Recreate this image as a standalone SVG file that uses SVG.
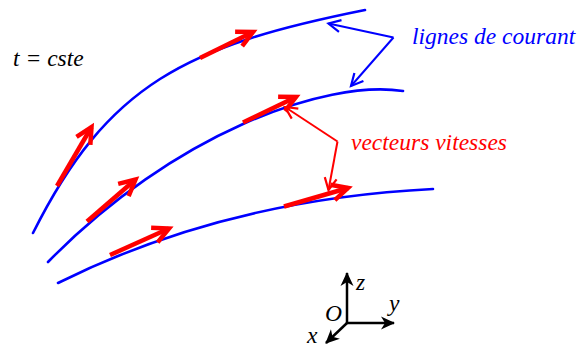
<svg xmlns="http://www.w3.org/2000/svg" width="579" height="347" viewBox="0 0 579 347">
<style>
.curve{fill:none;stroke:#0000ff;stroke-width:2.6;stroke-linecap:round}
.vec{fill:none;stroke:#ff0000;stroke-width:4.5;stroke-linecap:butt}
.ptrb{fill:none;stroke:#0000ff;stroke-width:2}
.ptrr{fill:none;stroke:#ff0000;stroke-width:2}
.axis{fill:none;stroke:#000;stroke-width:2.5}
.t{font-family:'Liberation Serif','Times New Roman',serif;font-style:italic;font-size:23.5px}
</style>
<defs>
<marker id="mv" markerUnits="userSpaceOnUse" orient="auto" markerWidth="40" markerHeight="40" viewBox="-20 -20 40 40" refX="0" refY="0" overflow="visible">
<path d="M-16,-8 L0,0 L-16,8" fill="none" stroke="#ff0000" stroke-width="4.5" stroke-linejoin="miter"/>
</marker>
<marker id="mb" markerUnits="userSpaceOnUse" orient="auto" markerWidth="30" markerHeight="30" viewBox="-15 -15 30 30" refX="0" refY="0" overflow="visible">
<path d="M-12,-6 L0,0 L-12,6" fill="none" stroke="#0000ff" stroke-width="2.2"/>
</marker>
<marker id="mr" markerUnits="userSpaceOnUse" orient="auto" markerWidth="30" markerHeight="30" viewBox="-15 -15 30 30" refX="0" refY="0" overflow="visible">
<path d="M-12,-6 L0,0 L-12,6" fill="none" stroke="#ff0000" stroke-width="2.2"/>
</marker>
<marker id="mk" markerUnits="userSpaceOnUse" orient="auto" markerWidth="30" markerHeight="30" viewBox="-15 -15 30 30" refX="0" refY="0" overflow="visible">
<path d="M1,0 L-13,-6.5 L-9,0 L-13,6.5 Z" fill="#000"/>
</marker>
</defs>

<g id="streamline1"><path class="curve" d="M33,233 C107.5,84 186.5,45.7 365,10"/></g>
<g id="streamline2"><path class="curve" d="M48,262 C172.8,134 325,79 403,91"/></g>
<g id="streamline3"><path class="curve" d="M58,283 Q225,199.5 433,189"/></g>

<g id="vectors">
<line class="vec" x1="57" y1="186" x2="91.5" y2="127" marker-end="url(#mv)"/>
<line class="vec" x1="200" y1="58" x2="253" y2="32" marker-end="url(#mv)"/>
<line class="vec" x1="87" y1="221.5" x2="135.5" y2="179.5" marker-end="url(#mv)"/>
<line class="vec" x1="243" y1="122.5" x2="296" y2="97" marker-end="url(#mv)"/>
<line class="vec" x1="110" y1="255" x2="169" y2="228.5" marker-end="url(#mv)"/>
<line class="vec" x1="284" y1="206.5" x2="348" y2="188" marker-end="url(#mv)"/>
</g>

<g id="connectors">
<line class="ptrb" x1="393.5" y1="37.5" x2="328.5" y2="23.5" marker-end="url(#mb)"/>
<line class="ptrb" x1="393.5" y1="37.5" x2="351" y2="86" marker-end="url(#mb)"/>
<line class="ptrr" x1="337.5" y1="141.5" x2="285" y2="107" marker-end="url(#mr)"/>
<line class="ptrr" x1="337.5" y1="141.5" x2="328.5" y2="190" marker-end="url(#mr)"/>
</g>

<g id="axes">
<line class="axis" x1="347" y1="323" x2="347" y2="273" marker-end="url(#mk)"/>
<line class="axis" x1="346" y1="323" x2="394" y2="323" marker-end="url(#mk)"/>
<line class="axis" x1="347" y1="323" x2="326" y2="343" marker-end="url(#mk)"/>
<text class="t" x="356" y="290">z</text>
<text class="t" x="389" y="311">y</text>
<text class="t" x="325" y="321">O</text>
<text class="t" x="307" y="343">x</text>
</g>

<g id="labels">
<text class="t" x="13" y="66" fill="#000">t = cste</text>
<text class="t" id="lbl-lignes" x="412" y="43.5" fill="#0000ff">lignes de courant</text>
<text class="t" id="lbl-vecteurs" x="351" y="150" fill="#ff0000">vecteurs vitesses</text>
</g>
</svg>
